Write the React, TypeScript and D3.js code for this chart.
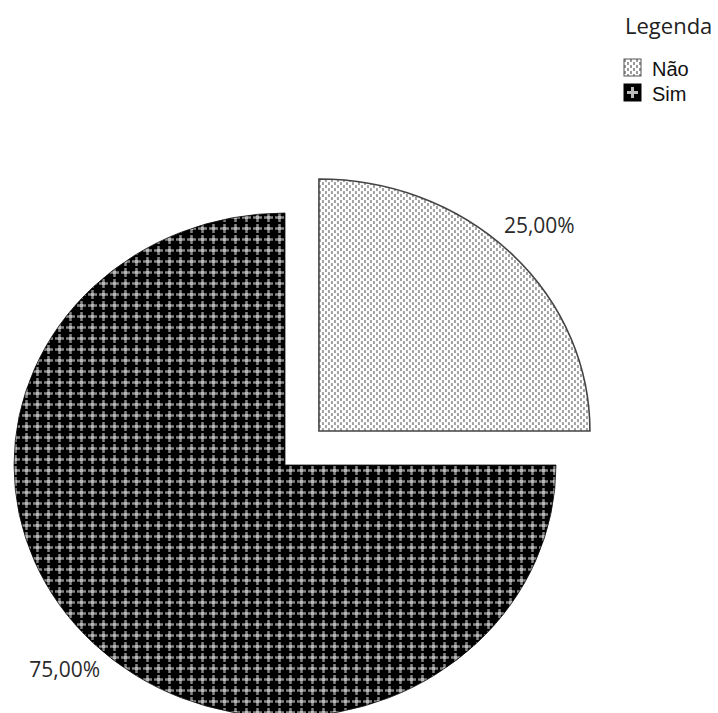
import React from "react";
import * as d3 from "d3";

const categories = ["Não", "Sim"];
const values = [25, 75];
const valueLabels = ["25,00%", "75,00%"];
const legendTitle = "Legenda";

const W = 718;
const H = 713;
const cx = 285;
const cy = 465;
const rx = 271;
const ry = 252;
const explode = [48, 0];
const labelFactor = 1.15;
const patternIds = ["pat-nao", "pat-sim"];

export default function App() {
  const pie = d3.pie<number>().sort(null).value((d) => d)(values);
  const arc = d3.arc<d3.PieArcDatum<number>>().innerRadius(0).outerRadius(rx);
  const k = ry / rx;

  return (
    <div style={{ position: "absolute", left: 0, top: 0 }}>
      <svg width={W} height={H} style={{ display: "block", background: "#fff" }}>
        <defs>
          <pattern id="pat-nao" width={6} height={6} patternUnits="userSpaceOnUse" patternTransform={`scale(1, ${1 / k})`}>
            <rect width={6} height={6} fill="#fff" />
            <rect x={0} y={0} width={2} height={3} fill="#a0a0a0" />
            <rect x={3} y={3} width={2} height={3} fill="#a0a0a0" />
          </pattern>
          <pattern id="pat-sim" width={11} height={11} patternUnits="userSpaceOnUse" patternTransform={`scale(1, ${1 / k})`}>
            <rect width={11} height={11} fill="#000" />
            <rect x={4.25} y={1} width={2.5} height={9} fill="#858585" />
            <rect x={1} y={4.25} width={9} height={2.5} fill="#858585" />
            <rect x={4} y={4} width={3} height={3} fill="#b8b8b8" />
          </pattern>
          <pattern id="leg-nao" width={6} height={6} patternUnits="userSpaceOnUse">
            <rect width={6} height={6} fill="#fff" />
            <rect x={0} y={0} width={2} height={3} fill="#999" />
            <rect x={3} y={3} width={2} height={3} fill="#999" />
          </pattern>
        </defs>

        {pie.map((d, i) => {
          const mid = (d.startAngle + d.endAngle) / 2;
          const ox = explode[i] * Math.sin(mid);
          const oy = -explode[i] * Math.cos(mid);
          return (
            <g key={categories[i]} transform={`translate(${cx + ox},${cy + oy}) scale(1,${k})`}>
              <path
                d={arc(d) || ""}
                fill={`url(#${patternIds[i]})`}
                stroke={i === 0 ? "#444" : "#111"}
                strokeWidth={i === 0 ? 1.6 : 0.8}
                vectorEffect="non-scaling-stroke"
              />
            </g>
          );
        })}

        {pie.map((d, i) => {
          const mid = (d.startAngle + d.endAngle) / 2;
          const ox = explode[i] * Math.sin(mid);
          const oy = -explode[i] * Math.cos(mid);
          const lx = cx + ox + labelFactor * rx * Math.sin(mid);
          const ly = cy + oy - labelFactor * ry * Math.cos(mid);
          return (
            <text
              key={valueLabels[i]}
              x={lx}
              y={ly + 7}
              textAnchor="middle"
              fontFamily="'Open Sans', sans-serif"
              fontSize={21}
              fill="#2a2a2a"
            >
              {valueLabels[i]}
            </text>
          );
        })}

        <text x={625} y={34} fontFamily="'Open Sans', sans-serif" fontSize={22} fill="#222">
          {legendTitle}
        </text>
        {categories.map((c, i) => (
          <g key={c} transform={`translate(624, ${59 + i * 25})`}>
            <rect
              width={17}
              height={17}
              fill={i === 0 ? "url(#leg-nao)" : "#000"}
              stroke={i === 0 ? "#555" : "#000"}
              strokeWidth={1}
            />
            {i === 1 && (
              <g>
                <rect x={7} y={3} width={3} height={11} fill="#bbb" />
                <rect x={3} y={7} width={11} height={3} fill="#bbb" />
              </g>
            )}
            <text x={28} y={17} fontFamily="'Liberation Sans', Arial, sans-serif" fontSize={20} fill="#111">
              {c}
            </text>
          </g>
        ))}
      </svg>
    </div>
  );
}
